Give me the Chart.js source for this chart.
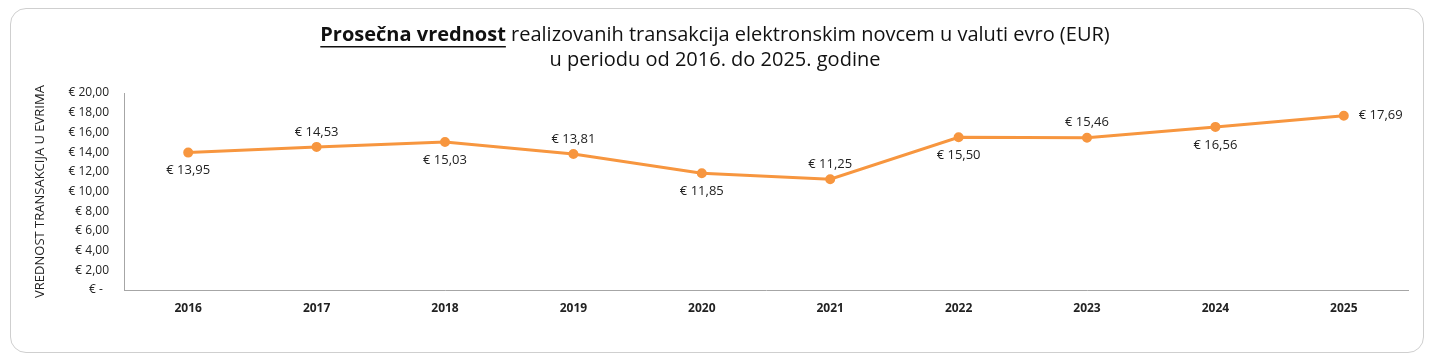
<!DOCTYPE html>
<html>
<head>
<meta charset="utf-8">
<script src="https://cdn.jsdelivr.net/npm/chart.js@4"></script>
<style>
  body { margin: 0; background: #fff; }
  #card {
    position: absolute; left: 10px; top: 8px; width: 1412px; height: 343px;
    border: 1px solid #cfcfcf; border-radius: 16px;
  }
  #avgChart { position: absolute; left: 0; top: 0; }
</style>
</head>
<body>
<div id="card"></div>
<canvas id="avgChart" width="1430" height="363"></canvas>
<script>
const years = ['2016', '2017', '2018', '2019', '2020', '2021', '2022', '2023', '2024', '2025'];
const avgValue = [13.95, 14.53, 15.03, 13.81, 11.85, 11.25, 15.50, 15.46, 16.56, 17.69];
const labelPos = ['below', 'above', 'below', 'above', 'below', 'above', 'below', 'above', 'below', 'right'];
const yTicks = [0, 2, 4, 6, 8, 10, 12, 14, 16, 18, 20];

const FONT = "'Open Sans', sans-serif";
const orange = '#F7963F';

function euro(v) {
    if (v === 0) return '€ -  ';
    return '€ ' + v.toFixed(2).replace('.', ',');
}

// title with bold underlined first part
const titlePlugin = {
    id: 'mixedTitle',
    afterDraw(chart) {
        const ctx = chart.ctx;
        const cx = chart.width / 2;
        const boldPart = 'Prosečna vrednost';
        const rest = ' realizovanih transakcija elektronskim novcem u valuti evro (EUR)';
        ctx.save();
        ctx.fillStyle = '#111';
        ctx.textBaseline = 'middle';
        ctx.font = 'bold 20px ' + FONT;
        const wb = ctx.measureText(boldPart).width;
        ctx.font = '20px ' + FONT;
        const wr = ctx.measureText(rest).width;
        let x = cx - (wb + wr) / 2;
        ctx.textAlign = 'left';
        ctx.font = 'bold 20px ' + FONT;
        ctx.fillText(boldPart, x, 35);
        ctx.fillRect(x, 46, wb, 1.5);
        ctx.font = '20px ' + FONT;
        ctx.fillText(rest, x + wb, 35);
        ctx.textAlign = 'center';
        ctx.fillText('u periodu od 2016. do 2025. godine', cx, 60);
        ctx.restore();
    }
};

// value labels around points
const valueLabels = {
    id: 'valueLabels',
    afterDatasetsDraw(chart) {
        const ctx = chart.ctx;
        const meta = chart.getDatasetMeta(0);
        ctx.save();
        ctx.font = '13px ' + FONT;
        ctx.fillStyle = '#222';
        ctx.textBaseline = 'middle';
        meta.data.forEach((pt, i) => {
            const txt = euro(avgValue[i]);
            const pos = labelPos[i];
            if (pos === 'right') {
                ctx.textAlign = 'left';
                ctx.fillText(txt, pt.x + 15, pt.y);
            } else if (pos === 'above') {
                ctx.textAlign = 'center';
                ctx.fillText(txt, pt.x, pt.y - 15);
            } else {
                ctx.textAlign = 'center';
                ctx.fillText(txt, pt.x, pt.y + 18);
            }
        });
        ctx.restore();
    }
};

new Chart(document.getElementById('avgChart'), {
    type: 'line',
    data: {
        labels: years,
        datasets: [{
            data: avgValue,
            borderColor: orange,
            backgroundColor: orange,
            borderWidth: 3,
            pointRadius: 3.5,
            pointHoverRadius: 3.5,
            tension: 0
        }]
    },
    options: {
        responsive: false,
        animation: false,
        layout: { padding: { left: 30, right: 22, top: 93, bottom: 0 } },
        plugins: {
            legend: { display: false },
            tooltip: { enabled: false }
        },
        scales: {
            x: {
                offset: true,
                grid: { display: false, drawTicks: false },
                border: { display: true, color: '#a6a6a6', width: 1 },
                ticks: {
                    padding: 11,
                    color: '#222',
                    font: { family: FONT, size: 12, weight: 'bold' }
                },
                afterFit(scale) { scale.height = 73; }
            },
            y: {
                min: 0,
                max: 20,
                afterBuildTicks(scale) { scale.ticks = yTicks.map(v => ({ value: v })); },
                grid: { display: false, drawTicks: false },
                border: { display: true, color: '#a6a6a6', width: 1 },
                ticks: {
                    padding: 15,
                    color: '#222',
                    font: { family: FONT, size: 12 },
                    callback: v => euro(v)
                },
                title: {
                    display: true,
                    text: 'VREDNOST TRANSAKCIJA U EVRIMA',
                    color: '#222',
                    font: { family: FONT, size: 13 },
                    padding: { top: 2, bottom: 0 }
                },
                afterFit(scale) { scale.width = 94; }
            }
        }
    },
    plugins: [titlePlugin, valueLabels]
});
</script>
</body>
</html>
